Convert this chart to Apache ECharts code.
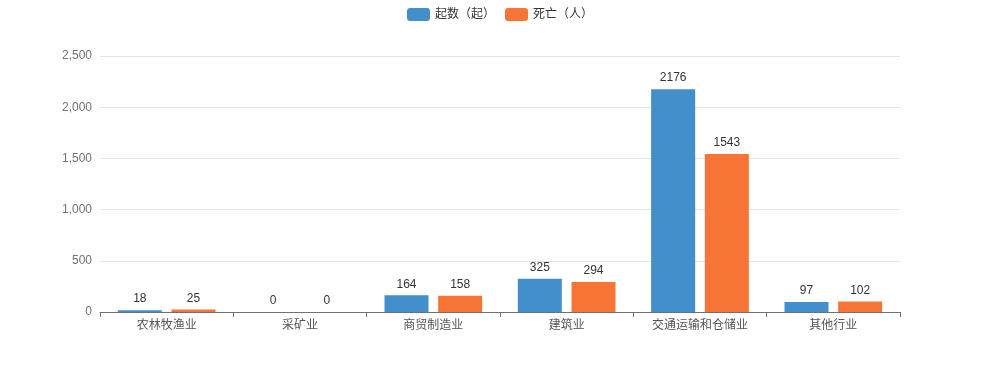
<!DOCTYPE html>
<html>
<head>
<meta charset="utf-8">
<script src="https://cdn.jsdelivr.net/npm/echarts@6/dist/echarts.min.js"></script>
<style>
  html, body { margin: 0; padding: 0; background: #fff; }
  #main { width: 1000px; height: 377px; }
</style>
</head>
<body>
<div id="main"></div>
<script>
// industries along the x axis
let categories = ['农林牧渔业', '采矿业', '商贸制造业', '建筑业', '交通运输和仓储业', '其他行业'];
// accident counts and deaths
let countData = [18, 0, 164, 325, 2176, 97];
let deathData = [25, 0, 158, 294, 1543, 102];
let seriesNames = ['起数（起）', '死亡（人）'];

function drawChart() {
    let myChart = echarts.init(document.getElementById('main'));
    let labelStyle = {
        show: true,
        position: 'top',
        color: '#333',
        fontSize: 12
    };
    let option = {
        textStyle: { fontFamily: 'Liberation Sans, Noto Sans CJK SC, sans-serif' },
        color: ['#428fcb', '#f67536'],
        legend: {
            top: 3,
            left: 'center',
            itemWidth: 23,
            itemHeight: 13,
            itemGap: 10,
            textStyle: { color: '#333', fontSize: 12 },
            data: seriesNames
        },
        grid: {
            left: 100,
            right: 100,
            top: 56,
            bottom: 65
        },
        xAxis: {
            type: 'category',
            data: categories,
            axisLine: { lineStyle: { color: '#6e7079' } },
            axisTick: { show: true, lineStyle: { color: '#6e7079' } },
            axisLabel: { color: '#555', fontSize: 12 }
        },
        yAxis: {
            type: 'value',
            min: 0,
            max: 2500,
            interval: 500,
            axisLine: { show: false },
            axisTick: { show: false },
            axisLabel: { color: '#6e7079', fontSize: 12 },
            splitLine: { lineStyle: { color: '#e0e6f1' } }
        },
        series: [
            {
                name: seriesNames[0],
                type: 'bar',
                barWidth: '33%',
                barGap: '22%',
                label: labelStyle,
                data: countData
            },
            {
                name: seriesNames[1],
                type: 'bar',
                barWidth: '33%',
                barGap: '22%',
                label: labelStyle,
                data: deathData
            }
        ]
    };
    myChart.setOption(option);
}

drawChart();
</script>
</body>
</html>
